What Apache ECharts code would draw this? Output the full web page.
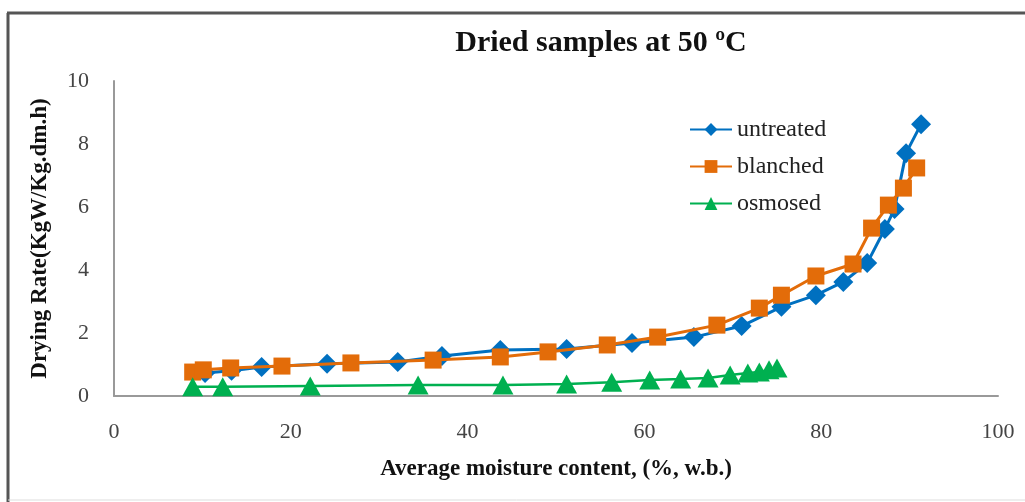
<!DOCTYPE html>
<html>
<head>
<meta charset="utf-8">
<script src="https://cdn.jsdelivr.net/npm/echarts@6/dist/echarts.min.js"></script>
<style>
html,body{margin:0;padding:0;background:#fff;}
#c{width:1025px;height:502px;}
</style>
</head>
<body>
<div id="c"></div>
<script>
const untreatedX = [10.3, 13.3, 16.7, 24.1, 32.1, 37.1, 43.7, 51.2, 58.6, 65.6, 71.0, 75.5, 79.4, 82.5, 85.2, 87.2, 88.3, 89.6, 91.3];
const untreatedY = [0.73, 0.80, 0.92, 1.02, 1.08, 1.27, 1.46, 1.49, 1.68, 1.87, 2.22, 2.83, 3.20, 3.62, 4.22, 5.30, 5.94, 7.71, 8.63];
const blanchedX = [8.9, 10.1, 13.2, 19.0, 26.8, 36.1, 43.7, 49.1, 55.8, 61.5, 68.2, 73.0, 75.5, 79.4, 83.6, 85.7, 87.6, 89.3, 90.8];
const blanchedY = [0.76, 0.83, 0.89, 0.95, 1.05, 1.14, 1.24, 1.40, 1.62, 1.87, 2.25, 2.79, 3.20, 3.81, 4.19, 5.33, 6.06, 6.60, 7.24];
const osmosedX = [8.9, 12.3, 22.2, 34.4, 44.0, 51.2, 56.3, 60.6, 64.1, 67.2, 69.7, 71.7, 73.0, 74.1, 75.0];
const osmosedY = [0.29, 0.29, 0.32, 0.35, 0.35, 0.38, 0.44, 0.51, 0.54, 0.57, 0.67, 0.73, 0.76, 0.83, 0.89];
const seriesNames = ['untreated', 'blanched', 'osmosed'];
const titleText = 'Dried samples at 50 \u00baC';
const xName = 'Average moisture content, (%, w.b.)';
const yName = 'Drying Rate(KgW/Kg.dm.h)';

const zip = (xs, ys) => xs.map((x, i) => [x, ys[i]]);
const serif = '"Liberation Serif", "DejaVu Serif", serif';

const chart = echarts.init(document.getElementById('c'), null, {renderer: 'canvas'});
chart.setOption({
  animation: false,
  backgroundColor: '#fff',
  title: {
    text: titleText,
    left: 596, top: 22, textAlign: 'center',
    textStyle: {fontFamily: serif, fontSize: 30, fontWeight: 'bold', color: '#111', lineHeight: 32}
  },
  legend: {
    orient: 'vertical',
    left: 684, top: 112,
    itemWidth: 42, itemHeight: 16, itemGap: 12,
    textStyle: {fontFamily: serif, fontSize: 24, color: '#222', lineHeight: 25},
    data: seriesNames
  },
  grid: {left: 114, right: 27, top: 81, bottom: 106, containLabel: false},
  xAxis: {
    type: 'value', min: 0, max: 100, interval: 20,
    name: xName, nameLocation: 'middle', nameGap: 62,
    nameTextStyle: {fontFamily: serif, fontSize: 23, fontWeight: 'bold', color: '#111'},
    axisLine: {show: true, lineStyle: {color: '#999', width: 2}},
    axisTick: {show: false},
    splitLine: {show: false},
    axisLabel: {margin: 25, fontFamily: serif, fontSize: 22, color: '#444'}
  },
  yAxis: {
    type: 'value', min: 0, max: 10, interval: 2,
    name: yName, nameLocation: 'middle', nameGap: 62, nameRotate: 90,
    nameTextStyle: {fontFamily: serif, fontSize: 23, fontWeight: 'bold', color: '#111'},
    axisLine: {show: true, lineStyle: {color: '#999', width: 2}},
    axisTick: {show: false},
    splitLine: {show: false},
    axisLabel: {margin: 25, fontFamily: serif, fontSize: 22, color: '#444'}
  },
  series: [
    {
      name: seriesNames[0], type: 'line', data: zip(untreatedX, untreatedY),
      symbol: 'diamond', symbolSize: [20, 20],
      lineStyle: {color: '#0070C0', width: 3},
      itemStyle: {color: '#0070C0'}, z: 2
    },
    {
      name: seriesNames[1], type: 'line', data: zip(blanchedX, blanchedY),
      symbol: 'rect', symbolSize: 17,
      lineStyle: {color: '#E36C09', width: 3},
      itemStyle: {color: '#E36C09'}, z: 3
    },
    {
      name: seriesNames[2], type: 'line', data: zip(osmosedX, osmosedY),
      symbol: 'triangle', symbolSize: [21, 19],
      lineStyle: {color: '#00B050', width: 2.5},
      itemStyle: {color: '#00B050'}, z: 4
    }
  ],
  graphic: [
    {type: 'line', shape: {x1: 8, y1: 13, x2: 8, y2: 502}, style: {stroke: '#555', lineWidth: 3}},
    {type: 'line', shape: {x1: 7, y1: 13, x2: 1025, y2: 13}, style: {stroke: '#555', lineWidth: 3}},
    {type: 'line', shape: {x1: 8, y1: 500, x2: 1025, y2: 500}, style: {stroke: '#ddd', lineWidth: 1}}
  ]
});
</script>
</body>
</html>
